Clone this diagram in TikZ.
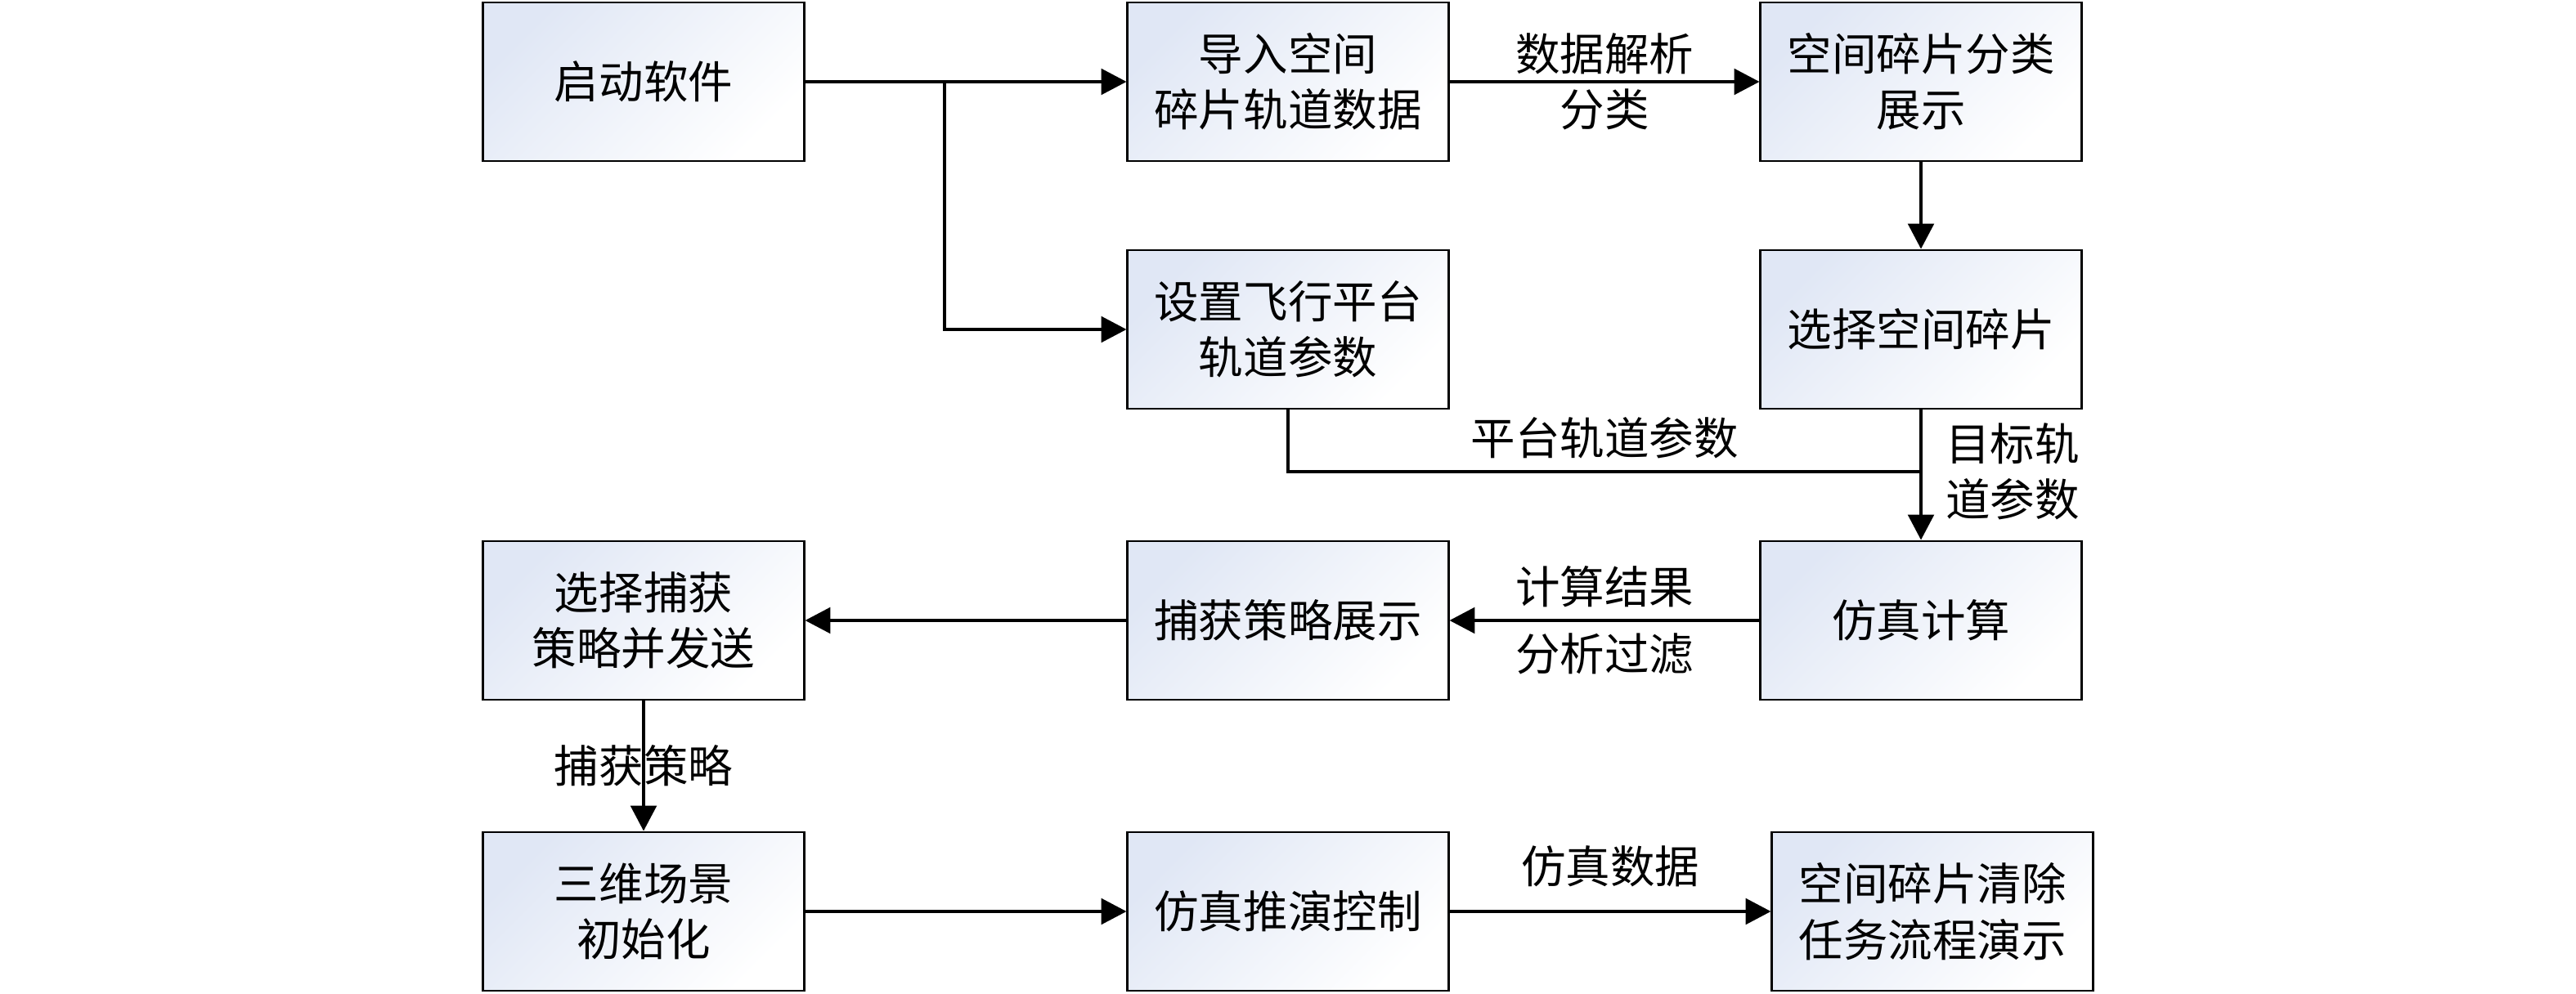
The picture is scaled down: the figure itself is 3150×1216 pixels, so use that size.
\documentclass[tikz,border=0pt]{standalone}
\usepackage{fontspec}
\newfontfamily\cjk{Noto Sans CJK SC}
\usetikzlibrary{arrows.meta}
\definecolor{boxtint}{RGB}{224,231,245}

\begin{document}
\begin{tikzpicture}[x=0.01cm, y=-0.01cm,
    box/.style={draw, line width=0.8pt, minimum width=3.92cm, minimum height=1.94cm,
        top color=boxtint, bottom color=white, shading angle=45,
        align=center, inner sep=0pt, font=\cjk\fontsize{15.5pt}{19.4pt}\selectfont},
    lbl/.style={align=center, inner sep=4pt, font=\cjk\fontsize{15.5pt}{19.4pt}\selectfont},
    arr/.style={line width=1pt, -{Triangle[length=8.8pt,width=9pt]}},
    ln/.style={line width=1pt}]
    \useasboundingbox (0,0) rectangle (3150,1216);

    % boxes
    \node[box] (start) at (787,100) {启动软件};
    \node[box] (import) at (1575,100) {导入空间\\碎片轨道数据};
    \node[box] (classify) at (2349,100) {空间碎片分类\\展示};
    \node[box] (platform) at (1575,403) {设置飞行平台\\轨道参数};
    \node[box] (target) at (2349,403) {选择空间碎片};
    \node[box] (choose) at (787,759) {选择捕获\\策略并发送};
    \node[box] (show) at (1575,759) {捕获策略展示};
    \node[box] (sim) at (2349,759) {仿真计算};
    \node[box] (init) at (787,1115) {三维场景\\初始化};
    \node[box] (control) at (1575,1115) {仿真推演控制};
    \node[box] (demo) at (2363,1115) {空间碎片清除\\任务流程演示};

    \coordinate (fork) at (1155,100);
    \coordinate (merge) at (2349,577);

    % connectors
    \draw[arr] (start) -- (import);
    \draw[arr] (fork) |- (platform);
    \draw[arr] (import) -- node[lbl, inner sep=0pt] (parse) {数据解析\\分类} (classify);
    \draw[arr] (classify) -- (target);
    \draw[arr] (target) -- (sim);
    \node[lbl] (tgtlbl) at (2461,577) {目标轨\\道参数};
    \draw[ln] (platform.south) |- node[lbl, pos=0.75, above] (platlbl) {平台轨道参数} (merge);
    \draw[arr] (sim) -- node[lbl, above] (reslbl) {计算结果} node[lbl, below] (fltlbl) {分析过滤} (show);
    \draw[arr] (show) -- (choose);
    \draw[arr] (choose) -- node[lbl] (caplbl) {捕获策略} (init);
    \draw[arr] (init) -- (control);
    \draw[arr] (control) -- node[lbl, above, inner sep=8pt] (datalbl) {仿真数据} (demo);
\end{tikzpicture}
\end{document}
